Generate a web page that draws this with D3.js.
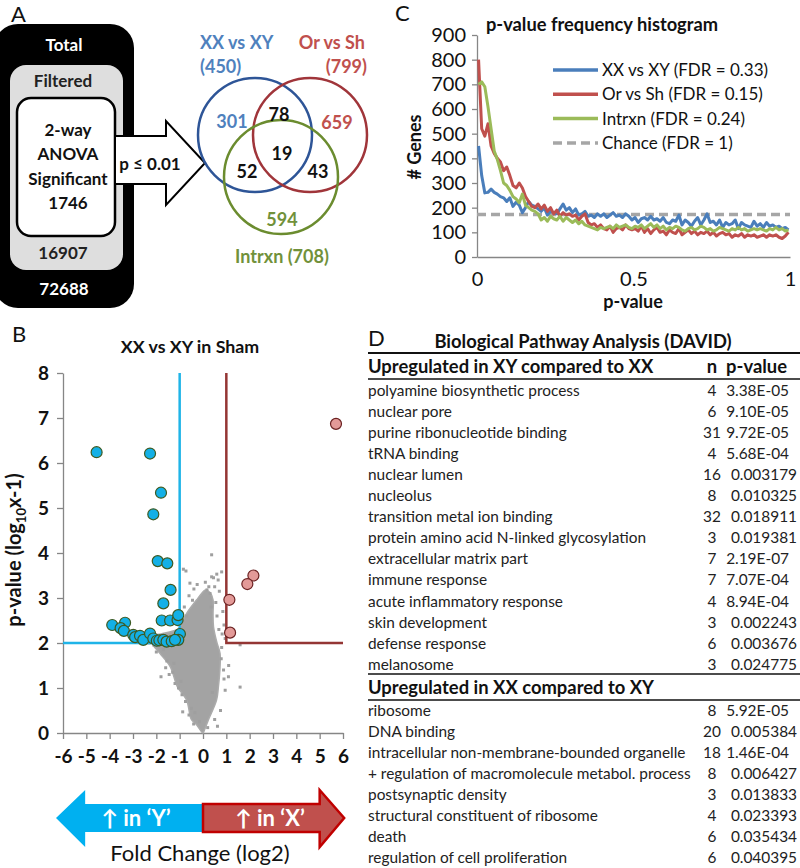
<!DOCTYPE html>
<html><head><meta charset="utf-8">
<script src="https://cdn.jsdelivr.net/npm/d3@7"></script>
<style>body{margin:0;background:#fff}svg{display:block}text{font-family:Lato,"Open Sans",sans-serif}</style>
</head><body><svg id="c" width="800" height="868"></svg>
<script>
// ---------- DATA ----------
// Panel A
const funnelLabels = ["Total", "Filtered", ["2-way", "ANOVA", "Significant"]];
const funnelCounts = [72688, 16907, 1746];
const arrowLabel = "p ≤ 0.01";
const vennSetNames = ["XX vs XY", "Or vs Sh", "Intrxn"];
const vennSetTotals = [450, 799, 708];
const vennOnly = [301, 659, 594];       // XX only, Or only, Intrxn only
const vennPairs = [78, 52, 43];         // XX&Or, XX&Int, Or&Int
const vennAll = 19;

// Panel C
const histSeries = ["XX vs XY (FDR = 0.33)", "Or vs Sh (FDR = 0.15)", "Intrxn (FDR = 0.24)", "Chance (FDR = 1)"];
const histXX = [450,330,260,262,275,262,255,245,240,225, 240,205,222,210,180,200,225,210,205,195,
  185,200,170,185,180,175,195,215,190,200, 180,195,170,175,185,165,170,160,175,165,
  175,160,170,180,165,170,160,175,165,150, 160,140,155,160,150,165,150,155,145,160,
  140,135,150,145,170,130,150,140,125,145, 160,130,150,175,140,145,130,150,120,140,
  130,135,150,115,140,130,125,120,145,125, 135,120,140,125,130,120,125,115,120,110];
const histOS = [800,520,490,540,450,420,400,385,350,365, 330,290,280,300,280,245,225,205,200,215,
  195,210,185,200,175,190,165,180,170,175, 165,170,150,165,175,140,130,135,120,130,
  115,110,125,100,115,120,110,130,115,110, 115,105,125,100,115,95,110,120,100,105,
  90,110,100,95,115,90,100,110,95,105, 90,100,95,105,90,100,85,95,100,90,
  95,80,90,85,95,80,90,85,90,80, 85,90,80,90,85,90,80,75,85,100];
const histInt = [700,710,690,610,520,430,395,350,300,290, 270,245,235,220,255,210,200,190,185,175,
  150,160,145,165,155,150,165,145,160,150, 140,150,135,145,130,125,120,115,110,120,
  115,120,125,115,130,120,125,130,120,115, 125,120,130,115,125,135,120,130,115,125,
  110,120,115,125,120,110,105,115,120,110, 115,125,120,110,115,105,110,120,115,110,
  105,115,110,120,110,115,105,110,115,110, 115,110,105,115,110,120,110,115,105,110];
const histChance = 172;
const histBins = histXX.map((d, i) => (i + 0.5) / 100);
const histYTicks = [0,100,200,300,400,500,600,700,800,900];
const histXTicks = [0, 0.5, 1];

// Panel B
const volcXTicks = [-6,-5,-4,-3,-2,-1,0,1,2,3,4,5,6];
const volcYTicks = [0,1,2,3,4,5,6,7,8];
const upY_fc = [-4.56,-2.27,-1.80,-2.13,-1.94,-1.53,-1.39,-1.70,-3.89,-3.34,-3.53,-3.39,-2.99,-2.91,-2.70,-2.56,-2.27,-2.13,-1.98,-1.87,-1.77,-1.41,-1.09,-1.06,-0.99,-1.06,-1.70,-1.56,-1.34,-1.20];
const upY_p  = [ 6.24, 6.21, 5.34, 4.86, 3.82, 3.77, 3.18, 2.88, 2.40, 2.45, 2.33, 2.27, 2.18, 2.13, 2.16, 2.07, 2.21, 2.10, 2.05, 2.06, 2.50, 2.50, 2.51, 2.62, 2.20, 2.07, 2.07, 2.03, 2.04, 2.07];
const upX_fc = [5.70, 2.16, 1.90, 1.13, 1.16];
const upX_p  = [6.87, 3.50, 3.31, 2.96, 2.23];
const cloudFc = [0,-0.3,-0.5,-0.7,-1.1,-1.4,-1.85,-2.2,-2.25,-1.8,-1.1,-0.99,-0.7,-0.27,-0.06,0.1,0.3,0.43,0.43,0.45,0.6,0.73,0.73,0.66,0.58,0.23,0.05];
const cloudP  = [0,0.2,0.3,0.73,1.03,1.47,1.77,2.0,2.15,2.2,2.3,2.36,2.66,2.96,3.1,3.18,3.12,2.96,2.66,2.36,2.0,1.77,1.47,1.03,0.73,0.29,0.05];
const grayFc = [0.37,-0.84,-0.73,0.37,0.59,0.8,0.45,-0.56,-0.39,0.17,0.3,-0.6,0.5,0.65,-0.25,0.1,0.25,0.7,-0.45,0.55,0.85,-0.8,-0.7,0.6,0.9,0.95,
  1.59,1.09,1.59,-1.8,-0.87,-1.45,0.9,0.75,-0.6,-0.4,1.1,-1.6,-2.0,-2.4,-1.2,0.95,-0.75,0.5,0.62,-0.9,0.8,-0.5,0.2,-0.15,0.82,-1.3,-2.1,0.68,0.35,
  -1.55,-1.7,-1.25,-0.95,0.78,0.88,-2.3,-0.35,0.4,-1.05];
const grayP  = [3.96,3.64,3.6,3.47,3.53,3.58,3.45,3.33,3.2,3.18,3.1,3.05,3.25,3.4,3.3,3.35,3.25,3.15,2.95,2.9,2.7,2.8,2.6,2.6,2.4,2.1,
  1.02,1.25,1.96,1.25,0.47,1.3,1.2,0.5,0.4,0.2,1.5,1.45,1.8,2.05,1.1,0.95,0.7,0.3,0.15,0.85,1.9,0.55,0.12,0.25,2.2,1.35,1.95,2.3,2.8,
  1.6,1.85,1.55,1.15,1.65,1.4,2.0,0.45,0.9,1.0];
const volcArrows = ["↑ in ‘Y’", "↑ in ‘X’"];

// Panel D
const tableTitle = "Biological Pathway Analysis (DAVID)";
const xyHeader = "Upregulated in XY compared to XX";
const xyTerms = ["polyamine biosynthetic process","nuclear pore","purine ribonucleotide binding","tRNA binding","nuclear lumen","nucleolus","transition metal ion binding","protein amino acid N-linked glycosylation","extracellular matrix part","immune response","acute inflammatory response","skin development","defense response","melanosome"];
const xyN = [4,6,31,4,16,8,32,3,7,7,4,3,6,3];
const xyP = ["3.38E-05","9.10E-05","9.72E-05","5.68E-04","0.003179","0.010325","0.018911","0.019381","2.19E-07","7.07E-04","8.94E-04","0.002243","0.003676","0.024775"];
const xxHeader = "Upregulated in XX compared to XY";
const xxTerms = ["ribosome","DNA binding","intracellular non-membrane-bounded organelle","+ regulation of macromolecule metabol. process","postsynaptic density","structural constituent of ribosome","death","regulation of cell proliferation"];
const xxN = [8,20,18,8,3,4,6,6];
const xxP = ["5.92E-05","0.005384","1.46E-04","0.006427","0.013833","0.023393","0.035434","0.040395"];

// ---------- DRAW ----------
const svg = d3.select("#c");
const letter = (t, x, y) => svg.append("text").attr("x", x).attr("y", y).attr("font-size", 22).attr("fill", "#111").text(t);

// ===== Panel A =====
letter("A", 11, 22);
const gA = svg.append("g");
gA.append("rect").attr("x", -6).attr("y", 24).attr("width", 140).attr("height", 284).attr("rx", 24).attr("fill", "#000");
gA.append("rect").attr("x", 10).attr("y", 65).attr("width", 113).attr("height", 205).attr("rx", 16).attr("fill", "#dedede");
gA.append("rect").attr("x", 17).attr("y", 98).attr("width", 98).attr("height", 138).attr("rx", 14).attr("fill", "#fff").attr("stroke", "#000").attr("stroke-width", 2.5);
const bold = (g, t, x, y, size, fill, anchor) => g.append("text").attr("x", x).attr("y", y).attr("font-size", size)
  .attr("font-weight", "bold").attr("fill", fill || "#000").attr("text-anchor", anchor || "middle").text(t);
bold(gA, funnelLabels[0], 64, 51, 17, "#fff");
bold(gA, funnelLabels[1], 63, 87, 17, "#222");
funnelLabels[2].forEach((t, i) => bold(gA, t, 68, 136 + i * 24.3, 17, "#111"));
bold(gA, d3.format("d")(funnelCounts[2]), 68, 209, 17, "#111");
bold(gA, funnelCounts[1], 63, 259, 17, "#222");
bold(gA, funnelCounts[0], 64, 295, 17, "#fff");
// arrow
gA.append("path").attr("d", "M115,136 H166 V121 L205,163 L166,205 V184 H115 Z").attr("fill", "#fff").attr("stroke", "#000").attr("stroke-width", 2);
bold(gA, arrowLabel, 150, 170, 17, "#111");
// venn
const vBlue = "#2e5597", vRed = "#a0353a", vGreen = "#6b8c2f";
const circles = [[255, 135, vBlue], [310, 135, vRed], [281, 177, vGreen]];
circles.forEach(c => gA.append("circle").attr("cx", c[0]).attr("cy", c[1]).attr("r", 57).attr("fill", "none").attr("stroke", c[2]).attr("stroke-width", 2.5));
const tBlue = "#4f81bd", tRed = "#c0504d", tGreen = "#71913a";
bold(gA, vennSetNames[0], 200, 49, 18, tBlue, "start");
bold(gA, "(" + vennSetTotals[0] + ")", 200, 73, 18, tBlue, "start");
bold(gA, vennSetNames[1], 365, 49, 18, tRed, "end");
bold(gA, "(" + vennSetTotals[1] + ")", 367, 73, 18, tRed, "end");
bold(gA, vennSetNames[2] + " (" + vennSetTotals[2] + ")", 282, 263, 18, tGreen);
bold(gA, vennOnly[0], 232, 128, 18, tBlue);
bold(gA, vennOnly[1], 337, 129, 18, tRed);
bold(gA, vennOnly[2], 282, 226, 18, tGreen);
bold(gA, vennPairs[0], 279, 121, 18, "#111");
bold(gA, vennPairs[1], 247, 178, 18, "#111");
bold(gA, vennPairs[2], 318, 178, 18, "#111");
bold(gA, vennAll, 282, 160, 18, "#111");

// ===== Panel C =====
letter("C", 395, 21);
const gC = svg.append("g");
const xC = d3.scaleLinear([0, 1], [477, 790]);
const yC = d3.scaleLinear([0, 900], [257, 35]);
const axisStyle = (g) => { g.select(".domain").attr("stroke", "#868686").attr("stroke-width", 1.3); g.selectAll(".tick line").attr("stroke", "#868686").attr("stroke-width", 1.3); };
gC.append("g").attr("transform", "translate(477,0)").call(d3.axisLeft(yC).tickValues(histYTicks).tickSize(5).tickPadding(6).tickSizeOuter(0))
  .call(axisStyle).call(g => g.selectAll("text").attr("font-size", 20).attr("fill", "#111").attr("font-family", "Lato"));
gC.append("g").attr("transform", "translate(0,257)").call(d3.axisBottom(xC).tickValues(histXTicks).tickFormat(d3.format("")).tickSize(0).tickPadding(15).tickSizeOuter(0))
  .call(axisStyle).call(g => g.selectAll("text").attr("font-size", 20).attr("fill", "#111").attr("font-family", "Lato"));
bold(gC, "p-value frequency histogram", 602, 31, 18.3, "#111");
bold(gC, "p-value", 633, 308, 18, "#111");
gC.append("text").attr("transform", "translate(421,147) rotate(-90)").attr("text-anchor", "middle").attr("font-size", 18).attr("font-weight", "bold").attr("fill", "#111").text("# Genes");
const cCols = ["#4a7ebb", "#c0504d", "#9bbb59", "#a6a6a6"];
gC.append("line").attr("x1", xC(0)).attr("x2", xC(1)).attr("y1", yC(histChance)).attr("y2", yC(histChance))
  .attr("stroke", cCols[3]).attr("stroke-width", 3.5).attr("stroke-dasharray", "9,5");
const lineC = d3.line().x((d, i) => xC(histBins[i])).y(d => yC(d));
[histXX, histOS, histInt].forEach((s, k) => gC.append("path").datum(s).attr("d", lineC).attr("fill", "none").attr("stroke", cCols[k]).attr("stroke-width", 3).attr("stroke-linejoin", "round"));
histSeries.forEach((t, i) => {
  const y = 70 + i * 24.3;
  gC.append("line").attr("x1", 553).attr("x2", 598).attr("y1", y).attr("y2", y).attr("stroke", cCols[i]).attr("stroke-width", 3.5).attr("stroke-dasharray", i === 3 ? "9,5" : null);
  gC.append("text").attr("x", 602).attr("y", y + 6).attr("font-size", 17).attr("fill", "#111").text(t);
});

// ===== Panel B =====
letter("B", 12, 342);
const gB = svg.append("g");
const xB = d3.scaleLinear([-6, 6], [63, 343]);
const yB = d3.scaleLinear([0, 8], [733, 373]);
bold(gB, "XX vs XY in Sham", 190, 353, 17.8, "#111");
gB.append("g").attr("transform", "translate(63,0)").call(d3.axisLeft(yB).tickValues(volcYTicks).tickSize(6).tickPadding(8).tickSizeOuter(0))
  .call(axisStyle).call(g => g.selectAll("text").attr("font-size", 19).attr("font-weight", "bold").attr("fill", "#111").attr("font-family", "Lato"));
gB.append("g").attr("transform", "translate(0,733)").call(d3.axisBottom(xB).tickValues(volcXTicks).tickSize(6).tickPadding(11).tickSizeOuter(0))
  .call(axisStyle).call(g => g.selectAll("text").attr("font-size", 19).attr("font-weight", "bold").attr("fill", "#111").attr("font-family", "Lato").text(d => d));
const yl = gB.append("text").attr("transform", "translate(21,550) rotate(-90)").attr("text-anchor", "middle").attr("font-size", 20).attr("font-weight", "bold").attr("fill", "#111");
yl.append("tspan").text("p-value (log");
yl.append("tspan").attr("font-size", 13).attr("dy", 5).text("10");
yl.append("tspan").attr("dy", -5).text("x-1)");
// gray cloud
gB.append("path").datum(cloudFc.map((d, i) => [d, cloudP[i]])).attr("d", d3.line().x(d => xB(d[0])).y(d => yB(d[1])).curve(d3.curveCatmullRomClosed))
  .attr("fill", "#a3a3a3").attr("stroke", "#ababab").attr("stroke-width", 1.5).attr("stroke-linejoin", "round");
gB.selectAll(".gp").data(grayFc).join("rect").attr("x", (d) => xB(d) - 1.5).attr("y", (d, i) => yB(grayP[i]) - 1.5).attr("width", 3).attr("height", 3).attr("fill", "#9f9f9f");
// threshold lines
gB.append("path").attr("d", `M${xB(-1)},${yB(8)} V${yB(2)} H${xB(-6)}`).attr("fill", "none").attr("stroke", "#1fb4e8").attr("stroke-width", 2.5);
gB.append("path").attr("d", `M${xB(1)},${yB(8)} V${yB(2)} H${xB(6)}`).attr("fill", "none").attr("stroke", "#943634").attr("stroke-width", 2.5);
gB.selectAll(".up").data(upY_fc).join("circle").attr("cx", d => xB(d)).attr("cy", (d, i) => yB(upY_p[i])).attr("r", 5.5)
  .attr("fill", "#13b0e6").attr("stroke", "#3d5a22").attr("stroke-width", 1.2);
gB.selectAll(".ux").data(upX_fc).join("circle").attr("cx", d => xB(d)).attr("cy", (d, i) => yB(upX_p[i])).attr("r", 5.5)
  .attr("fill", "#e39a98").attr("stroke", "#6b2222").attr("stroke-width", 1.2);
// direction arrows
const ay0 = 804, ay1 = 832, ah0 = 790, ah1 = 847, am = 818;
gB.append("path").attr("d", `M${xB(0)},${ay0} H${xB(-5.05)} V${ah0} L${xB(-6.3)},${am} L${xB(-5.05)},${ah1} V${ay1} H${xB(0)} Z`).attr("fill", "#00b0f0");
gB.append("path").attr("d", `M${xB(0)},${ay0} H${xB(5.0)} V${ah0} L${xB(6.05)},${am} L${xB(5.0)},${ah1} V${ay1} H${xB(0)} Z`).attr("fill", "#c0504d").attr("stroke", "#c00000").attr("stroke-width", 2.5);
bold(gB, volcArrows[0], 136, 826, 22, "#fff");
bold(gB, volcArrows[1], 270, 826, 22, "#fff");
gB.append("text").attr("x", 200).attr("y", 861).attr("text-anchor", "middle").attr("font-size", 22).attr("fill", "#111").text("Fold Change (log2)");

// ===== Panel D =====
letter("D", 368, 346);
const gD = svg.append("g");
bold(gD, tableTitle, 583, 348, 18.4, "#111");
const rule = (y, w) => gD.append("line").attr("x1", 368).attr("x2", 800).attr("y1", y).attr("y2", y).attr("stroke", "#111").attr("stroke-width", w || 1.5);
rule(353, 1.8);
bold(gD, xyHeader, 368, 373, 18.4, "#111", "start");
bold(gD, "n", 712, 373, 18.4, "#111");
bold(gD, "p-value", 787, 373, 18.4, "#111", "end");
rule(379);
const rowStep = 21.05;
const rowFont = 15.4;
const drawRows = (terms, ns, ps, y0) => terms.forEach((t, i) => {
  const y = y0 + i * rowStep;
  gD.append("text").attr("x", 368).attr("y", y).attr("font-size", rowFont).attr("fill", "#222").text(t);
  gD.append("text").attr("x", 712).attr("y", y).attr("font-size", rowFont).attr("fill", "#222").attr("text-anchor", "middle").text(ns[i]);
  gD.append("text").attr("x", ps[i].includes("E") ? 789 : 797).attr("y", y).attr("font-size", rowFont).attr("fill", "#222").attr("text-anchor", "end").text(ps[i]);
});
drawRows(xyTerms, xyN, xyP, 396);
rule(674);
bold(gD, xxHeader, 368, 694, 18.4, "#111", "start");
rule(700);
drawRows(xxTerms, xxN, xxP, 716);
</script></body></html>
